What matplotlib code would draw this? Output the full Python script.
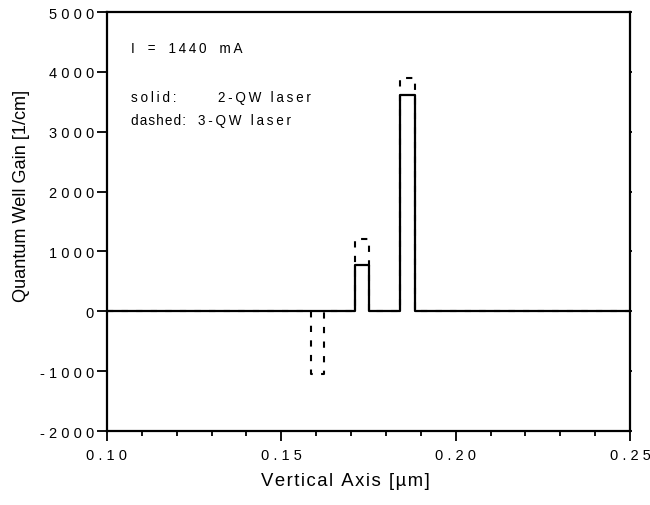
"""
Quantum well gain profile along the vertical axis, 2-QW vs 3-QW laser
"""
import numpy as np
import matplotlib.pyplot as plt
from matplotlib.ticker import MultipleLocator

plt.rcParams['font.family'] = ['Liberation Sans', 'DejaVu Sans']

# well edges [um] and gain in each well [1/cm]
well_left = [0.1585, 0.1711, 0.1840]
well_right = [0.1622, 0.1752, 0.1882]
gain_2qw = [0, 775, 3620]
gain_3qw = [-1050, 1200, 3900]
x_range = (0.10, 0.25)
y_range = (-2000, 5000)


def step_profile(lefts, rights, gains):
    """ build a piecewise-constant profile from the well edges """
    xs, ys = [x_range[0]], [0]
    for xl, xr, g in zip(lefts, rights, gains):
        xs += [xl, xl, xr, xr]
        ys += [0, g, g, 0]
    xs.append(x_range[1])
    ys.append(0)
    return np.array(xs), np.array(ys)


def spaced(s, sep=' ', word_sep=' '):
    """ mimic the wide letter spacing of the original plot """
    return (sep + word_sep + sep).join(sep.join(w) for w in s.split(' '))


x2, y2 = step_profile(well_left, well_right, gain_2qw)
x3, y3 = step_profile(well_left, well_right, gain_3qw)

fig = plt.figure(figsize=(6.5, 5.06), dpi=100)
ax = fig.add_axes([0.1646, 0.1462, 0.8046, 0.8281])

ax.plot(x3, y3, 'k', lw=1.5, ls=(0, (3.0, 4.0)))
ax.plot(x2, y2, 'k', lw=1.6)

ax.set_xlim(*x_range)
ax.set_ylim(*y_range)
ax.xaxis.set_major_locator(MultipleLocator(0.05))
ax.xaxis.set_minor_locator(MultipleLocator(0.01))
ax.yaxis.set_major_locator(MultipleLocator(1000))
ax.xaxis.set_major_formatter(lambda v, pos: ' '.join(f'{v:.2f}'))
ax.yaxis.set_major_formatter(lambda v, pos: ' '.join(f'{int(round(v))}'))

ax.tick_params(which='both', direction='out', width=1.3, labelsize=10.5)
ax.tick_params(which='major', length=7)
ax.tick_params(which='minor', length=3.5)
ax.tick_params(axis='x', pad=5)
ax.tick_params(axis='y', pad=2.5)
for spine in ax.spines.values():
    spine.set_linewidth(1.6)

# tiny ticks on the right spine
ax_r = ax.twinx()
ax_r.set_ylim(*y_range)
ax_r.yaxis.set_major_locator(MultipleLocator(1000))
ax_r.tick_params(axis='y', direction='out', length=1.5, width=1.3, labelright=False)
for spine in ax_r.spines.values():
    spine.set_visible(False)

ax.set_xlabel(spaced('Vertical Axis [\u00b5m]', '\u200a'), fontsize=13.3)
ax.set_ylabel('Quantum Well Gain [1/cm]', fontsize=13.1)
ax.xaxis.set_label_coords(0.456, -0.098)
ax.yaxis.set_label_coords(-0.148, 0.563)

txt = dict(fontsize=9.75, va='baseline')
ax.text(0.1069, 4337, spaced('I = 1440 mA', '\u2009', '  '), **txt)
ax.text(0.1069, 3513, spaced('solid:', '\u2009'), **txt)
ax.text(0.1318, 3513, spaced('2-QW laser', '\u2009'), **txt)
ax.text(0.1069, 3124, spaced('dashed:', '\u200a'), **txt)
ax.text(0.1261, 3124, spaced('3-QW laser', '\u2009'), **txt)

fig.savefig('out.png', dpi=100)
